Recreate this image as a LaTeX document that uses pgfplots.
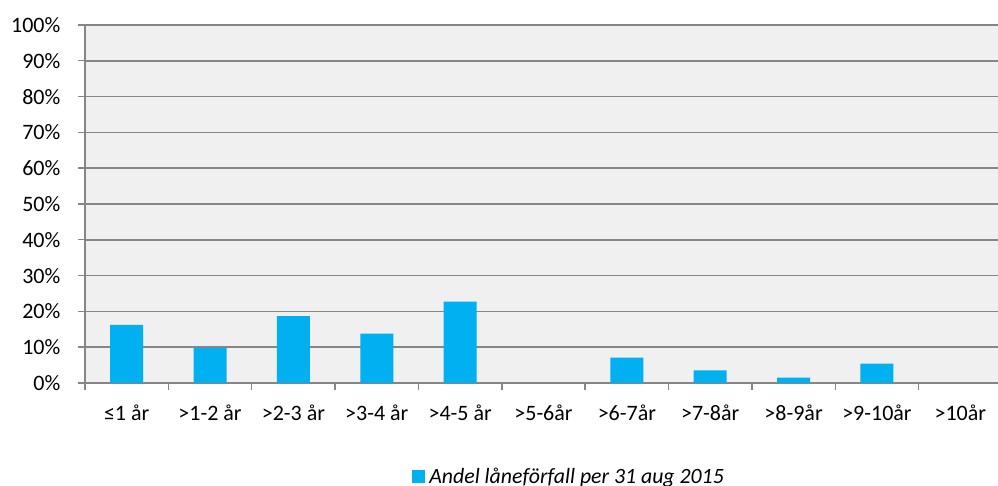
\documentclass[border=0pt]{standalone}
\usepackage{pgfplots}
\pgfplotsset{compat=1.18}
\usepackage{fontspec}
\setmainfont{Carlito}
\definecolor{barblue}{HTML}{00B0F0}
\definecolor{gridgray}{HTML}{868686}
\definecolor{bggray}{HTML}{F0F0F0}
\begin{document}
\begin{tikzpicture}
\begin{axis}[
  at={(0,0)}, anchor=south west,
  scale only axis, width=458.5pt, height=179pt,
  xmin=-0.5, xmax=10.5, ymin=0, ymax=100,
  axis x line=bottom, axis y line=left,
  axis line style={-, gridgray, line width=1pt},
  axis background/.style={fill=bggray},
  ymajorgrids, grid style={gridgray, line width=0.8pt},
  ytick={0,10,...,100},
  yticklabel={\pgfmathprintnumber{\tick}\%},
  /pgf/number format/assume math mode=true,
  tick align=outside, major tick length=3.5pt,
  ytick style={gridgray, line width=0.7pt},
  xtick={0,...,10},
  xtick style={draw=none},
  minor xtick={-0.5,0.5,...,10.5},
  minor tick length=3.5pt,
  minor x tick style={draw=gridgray, line width=0.7pt},
  xticklabels={≤1 år, >1-2 år, >2-3 år, >3-4 år, >4-5 år, >5-6år, >6-7år, >7-8år, >8-9år, >9-10år, >10år},
  tick label style={font=\fontsize{11}{13}\selectfont, text=black},
  yticklabel style={xshift=-5.3pt},
  xticklabel style={yshift=-3.8pt},
  legend style={at={(rel axis cs:0.529,-0.262)}, anchor=center, draw=none, fill=none,
    font=\fontsize{10.9}{12}\selectfont\itshape, inner sep=0pt},
  legend image code/.code={\fill[barblue] (0pt,-3.25pt) rectangle (6.5pt,3.25pt);},
]
\addplot[ybar, bar width=16.5pt, fill=barblue, draw=none]
  coordinates {(0,16.2) (1,9.8) (2,18.7) (3,13.8) (4,22.7) (6,7.1) (7,3.5) (8,1.5) (9,5.4)};
\addlegendentry{Andel låneförfall per 31 aug 2015}
\end{axis}
\pgfresetboundingbox
\path[use as bounding box] (-42.5pt,-51.5pt) rectangle (456.5pt,191.5pt);
\end{tikzpicture}
\end{document}
